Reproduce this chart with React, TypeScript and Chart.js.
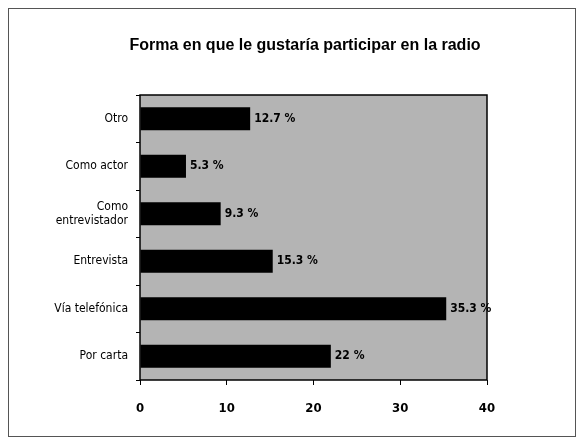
import React, { useEffect, useRef } from "react";
import { Chart, registerables } from "chart.js";

Chart.register(...registerables);

const titleText = "Forma en que le gustaría participar en la radio";
const categories: (string | string[])[] = [
  "Otro",
  "Como actor",
  ["Como", "entrevistador"],
  "Entrevista",
  "Vía telefónica",
  "Por carta",
];
const values = [12.7, 5.3, 9.3, 15.3, 35.3, 22];
const valueLabels = ["12.7 %", "5.3 %", "9.3 %", "15.3 %", "35.3 %", "22 %"];
const xTicks = [0, 10, 20, 30, 40];

const FONT = "'DejaVu Sans Condensed', 'Liberation Sans Narrow', 'Liberation Sans', Arial, sans-serif";

const decor = {
  id: "decor",
  beforeDraw(chart: any) {
    const { ctx, chartArea } = chart;
    ctx.save();
    ctx.fillStyle = "#b4b4b4";
    ctx.fillRect(chartArea.left, chartArea.top, chartArea.right - chartArea.left, chartArea.bottom - chartArea.top);
    ctx.restore();
  },
  afterDraw(chart: any) {
    const { ctx, chartArea } = chart;
    ctx.save();
    ctx.strokeStyle = "#000";
    ctx.lineWidth = 1.5;
    ctx.strokeRect(chartArea.left, chartArea.top, chartArea.right - chartArea.left, chartArea.bottom - chartArea.top);
    // title
    ctx.fillStyle = "#000";
    ctx.font = "bold 16px 'Liberation Sans', Arial, sans-serif";
    ctx.textAlign = "center";
    ctx.textBaseline = "middle";
    ctx.fillText(titleText, 296, 37);
    // value labels
    const meta = chart.getDatasetMeta(0);
    ctx.font = "bold 12px " + FONT;
    ctx.textAlign = "left";
    meta.data.forEach((bar: any, i: number) => {
      ctx.fillText(valueLabels[i], bar.x + 4, bar.y);
    });
    ctx.restore();
  },
};

export default function App() {
  const ref = useRef<HTMLCanvasElement>(null);
  useEffect(() => {
    if (!ref.current) return;
    const chart = new Chart(ref.current, {
      type: "bar",
      data: {
        labels: categories,
        datasets: [
          {
            data: values,
            backgroundColor: "#000",
            borderWidth: 0,
            barPercentage: 0.48,
            categoryPercentage: 1,
          },
        ],
      },
      options: {
        indexAxis: "y",
        animation: false,
        responsive: true,
        maintainAspectRatio: false,
        layout: { padding: { left: 0, right: 88, top: 86, bottom: 14 } },
        plugins: { legend: { display: false }, tooltip: { enabled: false }, title: { display: false } },
        scales: {
          x: {
            min: 0,
            max: 40,
            afterBuildTicks(scale: any) {
              scale.ticks = xTicks.map((v) => ({ value: v }));
            },
            afterFit(scale: any) {
              scale.height = 42;
            },
            border: { display: false },
            grid: { drawOnChartArea: false, tickLength: 5, color: "#000" },
            ticks: { color: "#000", font: { family: FONT, size: 13, weight: "bold" }, padding: 16 },
          },
          y: {
            afterFit(scale: any) {
              scale.width = 131;
            },
            border: { display: false },
            grid: { drawOnChartArea: false, tickLength: 4, color: "#000", offset: true },
            ticks: { color: "#000", font: { family: FONT, size: 12 }, padding: 8 },
          },
        },
      },
      plugins: [decor],
    });
    return () => chart.destroy();
  }, []);
  return (
    <div style={{ width: 566, height: 427, border: "1px solid #555", position: "relative", background: "#fff" }}>
      <canvas ref={ref} />
    </div>
  );
}
